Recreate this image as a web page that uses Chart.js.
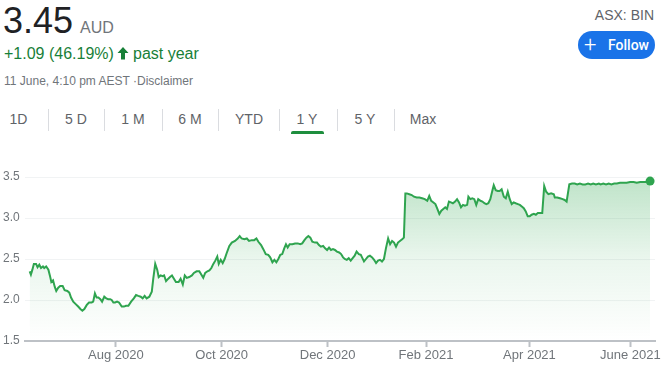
<!DOCTYPE html>
<html>
<head>
<meta charset="utf-8">
<script src="https://cdn.jsdelivr.net/npm/chart.js@4.4.1/dist/chart.umd.min.js"></script>
<style>
  html, body { margin:0; padding:0; background:#fff; }
  body { width:670px; height:371px; position:relative; overflow:hidden; font-family:"Liberation Sans", Arial, sans-serif; }
  .t { position:absolute; white-space:nowrap; }
  .tab { position:absolute; top:112px; font-size:14px; line-height:14px; color:#5f6368; transform:translateX(-50%); white-space:nowrap; }
  .sep { position:absolute; top:109px; width:1px; height:22px; background:#dadce0; }
  #wrap { position:absolute; left:0; top:150px; width:670px; height:221px; }
</style>
</head>
<body>
<div class="t" style="left:3px;top:3px;font-size:36px;line-height:36px;color:#202124;">3.45</div>
<div class="t" style="left:80px;top:19.5px;font-size:16px;line-height:16px;color:#70757a;">AUD</div>
<div class="t" style="left:4px;top:45.5px;font-size:16px;line-height:16px;color:#188038;">+1.09 (46.19%)</div>
<svg style="position:absolute;left:117px;top:47px;" width="12" height="13" viewBox="0 0 12 13"><path fill="#188038" d="M6 0 L0.5 6 H4 V12.5 H8 V6 H11.5 Z"/></svg>
<div class="t" style="left:133px;top:45.5px;font-size:16px;line-height:16px;color:#188038;">past year</div>
<div class="t" style="left:4px;top:75.3px;font-size:12px;line-height:12px;color:#70757a;">11 June, 4:10 pm AEST ·Disclaimer</div>
<div class="t" style="right:16px;top:7.6px;font-size:14px;line-height:14px;color:#5f6368;">ASX: BIN</div>
<div style="position:absolute;left:578px;top:31px;width:77px;height:28px;border-radius:14px;background:#1a73e8;color:#fff;font-family:Roboto,'Liberation Sans',sans-serif;font-weight:500;font-size:14px;line-height:28px;">
  <span style="position:absolute;left:6px;top:0;font-size:22px;font-weight:300;">+</span>
  <span style="position:absolute;left:30px;top:0;">Follow</span>
</div>

<div class="tab" style="left:18.5px;">1D</div>
<div class="sep" style="left:48px;"></div>
<div class="tab" style="left:76px;">5 D</div>
<div class="sep" style="left:104px;"></div>
<div class="tab" style="left:133px;">1 M</div>
<div class="sep" style="left:162px;"></div>
<div class="tab" style="left:190px;">6 M</div>
<div class="sep" style="left:218px;"></div>
<div class="tab" style="left:249px;">YTD</div>
<div class="sep" style="left:279px;"></div>
<div class="tab" style="left:307px;">1 Y</div>
<div class="sep" style="left:337px;"></div>
<div class="tab" style="left:365px;">5 Y</div>
<div class="sep" style="left:394px;"></div>
<div class="tab" style="left:423px;">Max</div>
<div style="position:absolute;left:291px;top:131px;width:33px;height:3px;border-radius:2px 2px 0 0;background:#1e8e3e;"></div>

<div id="wrap"><canvas id="c" width="670" height="221"></canvas></div>

<script>
// trading-day index since 12 June 2020
const days = [
  0,0.5,1.1,1.7,2.6,3.2,3.9,4.6,5.4,5.9, 6.7,7.6,8.2,8.8,9.5,10.2,10.8,11.6,12.4,13.4, 14.2,15.3,16.1,16.8,17.7,18.7,19.7,20.6,21.4,22.2, 23.2,24.1,25.2,25.8,26.5,27.2,27.9,28.7,29.4,30.3, 31.1,31.9,32.7,33.3,34.0,34.7,35.5,36.3,37.4,38.3, 39.1,40.1,41.2,42.3,
  43.2,44.1,45.1,45.9,46.7,47.5,48.6,49.6,50.2,51.0, 51.8,52.4,53.2,54.0,54.6,55.4,56.3,57.0,57.8,58.6, 59.4,60.5,61.3,62.2,63.0,63.8,64.8,65.9,66.7,67.8, 68.9,69.7,70.5,71.3,72.2,73.0,73.8,74.6,75.4,76.2, 76.8,77.6,78.4,79.2,80.0,81.1,82.1,83.4,
  84.5,85.3,86.1,87.2,88.2,89.1,90.2,91.2,92.1,92.9, 94.0,94.9,95.9,96.9,97.7,98.6,99.4,100.2,101.0,101.8, 102.6,103.4,104.1,104.8,105.6,106.7,107.8,108.9,109.9,110.7, 111.6,112.4,113.2,114.0,114.8,115.9,116.7,117.5,118.3,119.2, 120.0,120.8,121.6,122.4,123.2,124.0,124.8,125.7,126.5,127.3,
  128.0,128.8,129.6,130.4,131.2,132.0,132.8,133.7,134.5,135.0, 135.8,136.6,137.4,138.2,139.1,139.9,140.7,141.5,142.3,143.1, 143.9,144.7,145.6,146.4,147.2,148.0,148.8,149.6,150.4,151.3, 152.0,152.6,153.2,154.2,155.2,156.1,157.2,158.3,159.4,160.5, 161.5,162.3,163.1,164.0,164.8,165.6,166.4,167.2,168.0,168.8, 169.5,
  170.3,171.1,171.9,172.8,173.6,174.4,175.2,176.0,176.8,177.7, 178.2,179.0,179.8,180.6,181.4,182.2,183.1,183.9,184.7,185.5, 186.3,187.1,187.9,188.5,189.3,190.1,190.9,191.7,192.6,193.4, 194.2,195.0,195.8,196.6,197.4,198.3,199.1,199.9,200.7,201.5, 202.3,203.1,203.9,204.8,205.6,206.4,207.2,208.2,209.0,209.8, 210.7,211.8,212.9,
  213.3,214.3,215.4,216.5,217.3,218.1,219.2,220.3,221.4,222.4, 223.5,224.6,225.7,226.8,227.9,228.9,230.0,231.2,231.9,233.0, 234.1,235.2,236.3,237.4,238.5,239.8,241.2,242.5,243.9,245.3, 246.6,248.0,249.3,250.7,252.0
];
const prices = [
  2.35,2.31,2.37,2.44,2.44,2.40,2.43,2.39,2.41,2.39, 2.41,2.37,2.30,2.22,2.24,2.16,2.11,2.15,2.17,2.17, 2.12,2.11,2.09,2.03,1.98,1.95,1.92,1.89,1.87,1.89, 1.94,1.97,1.97,1.98,2.08,2.03,2.03,2.01,1.98,2.04, 2.02,2.01,2.01,2.00,1.97,1.97,1.98,1.97,1.92,1.92, 1.93,1.93,1.98,2.02,
  2.06,2.05,2.04,2.02,2.05,2.02,2.04,2.10,2.26,2.44, 2.37,2.28,2.30,2.29,2.30,2.23,2.26,2.28,2.30,2.26, 2.22,2.22,2.26,2.19,2.30,2.27,2.28,2.30,2.33,2.35, 2.35,2.31,2.27,2.33,2.35,2.36,2.39,2.44,2.48,2.53, 2.44,2.49,2.45,2.50,2.57,2.66,2.70,2.72,
  2.75,2.78,2.75,2.74,2.75,2.72,2.73,2.73,2.75,2.71, 2.67,2.62,2.56,2.55,2.52,2.46,2.49,2.46,2.50,2.55, 2.56,2.63,2.68,2.64,2.68,2.68,2.69,2.69,2.68,2.69, 2.73,2.76,2.78,2.76,2.71,2.70,2.70,2.67,2.65,2.66, 2.63,2.61,2.64,2.61,2.62,2.61,2.59,2.58,2.56,2.52,
  2.50,2.49,2.51,2.48,2.51,2.54,2.59,2.56,2.55,2.52, 2.47,2.50,2.53,2.54,2.52,2.49,2.45,2.48,2.49,2.47, 2.50,2.63,2.75,2.68,2.72,2.70,2.65,2.70,2.72,2.74, 2.76,3.30,3.30,3.29,3.28,3.26,3.25,3.25,3.24,3.23, 3.21,3.27,3.21,3.19,3.17,3.11,3.05,3.09,3.11,3.13, 3.11,
  3.20,3.19,3.18,3.20,3.23,3.19,3.13,3.16,3.15,3.16, 3.26,3.23,3.24,3.23,3.16,3.23,3.21,3.20,3.18,3.17, 3.18,3.23,3.33,3.40,3.34,3.33,3.33,3.35,3.26,3.24, 3.32,3.23,3.17,3.19,3.18,3.17,3.16,3.14,3.12,3.08, 3.02,3.02,3.04,3.05,3.04,3.06,3.06,3.06,3.39,3.32, 3.29,3.30,3.29,
  3.25,3.25,3.24,3.23,3.22,3.20,3.41,3.42,3.42,3.41, 3.42,3.41,3.41,3.42,3.41,3.42,3.41,3.42,3.41,3.42, 3.41,3.42,3.41,3.42,3.42,3.43,3.43,3.43,3.44,3.44, 3.43,3.44,3.44,3.44,3.45
];
const tickDays = [35, 78, 121, 161, 203, 244];
const tickLabels = ['Aug 2020', 'Oct 2020', 'Dec 2020', 'Feb 2021', 'Apr 2021', 'June 2021'];
const yTicks = [1.5, 2.0, 2.5, 3.0, 3.5];

const points = days.map((d, i) => ({ x: d, y: prices[i] }));
const lastIdx = points.length - 1;
const GREEN = '#2fa44f';

new Chart(document.getElementById('c'), {
  type: 'line',
  data: {
    datasets: [{
      data: points,
      borderColor: GREEN,
      borderWidth: 2,
      tension: 0,
      fill: 'start',
      backgroundColor: (ctx) => {
        const ca = ctx.chart.chartArea;
        if (!ca) return 'rgba(52,168,83,0.15)';
        const g = ctx.chart.ctx.createLinearGradient(0, ca.top, 0, ca.bottom);
        g.addColorStop(0, 'rgba(52,168,83,0.32)');
        g.addColorStop(0.5, 'rgba(52,168,83,0.10)');
        g.addColorStop(1, 'rgba(52,168,83,0.0)');
        return g;
      },
      pointRadius: (ctx) => ctx.dataIndex === lastIdx ? 4.5 : 0,
      pointHoverRadius: 0,
      pointBackgroundColor: GREEN,
      pointBorderWidth: 0,
      clip: false
    }]
  },
  options: {
    responsive: false,
    animation: false,
    devicePixelRatio: 1,
    layout: { padding: { left: 3, right: 15, top: 27, bottom: 0 } },
    plugins: { legend: { display: false }, tooltip: { enabled: false } },
    scales: {
      x: {
        type: 'linear',
        min: -1.9,
        max: 254,
        afterBuildTicks: (s) => { s.ticks = tickDays.map(v => ({ value: v })); },
        afterFit: (s) => { s.height = 30; },
        ticks: {
          autoSkip: false, maxRotation: 0, padding: 1,
          color: '#70757a',
          font: { family: "'Liberation Sans', Arial, sans-serif", size: 13 },
          callback: (v) => tickLabels[tickDays.indexOf(v)]
        },
        grid: { drawOnChartArea: false, drawTicks: true, tickLength: 6, tickColor: '#bdc1c6', tickWidth: 2 },
        border: { display: true, color: '#bdc1c6', width: 2 }
      },
      y: {
        min: 1.5,
        max: 3.5,
        afterBuildTicks: (s) => { s.ticks = yTicks.map(v => ({ value: v })); },
        afterFit: (s) => { s.width = 22; },
        ticks: {
          crossAlign: 'far', padding: 0,
          color: '#70757a',
          font: { family: "'Liberation Sans', Arial, sans-serif", size: 12 },
          callback: (v) => Number(v).toFixed(1)
        },
        grid: { color: '#f1f3f4', lineWidth: 1, drawTicks: false, tickLength: 0 },
        border: { display: false }
      }
    }
  }
});
</script>
</body>
</html>
